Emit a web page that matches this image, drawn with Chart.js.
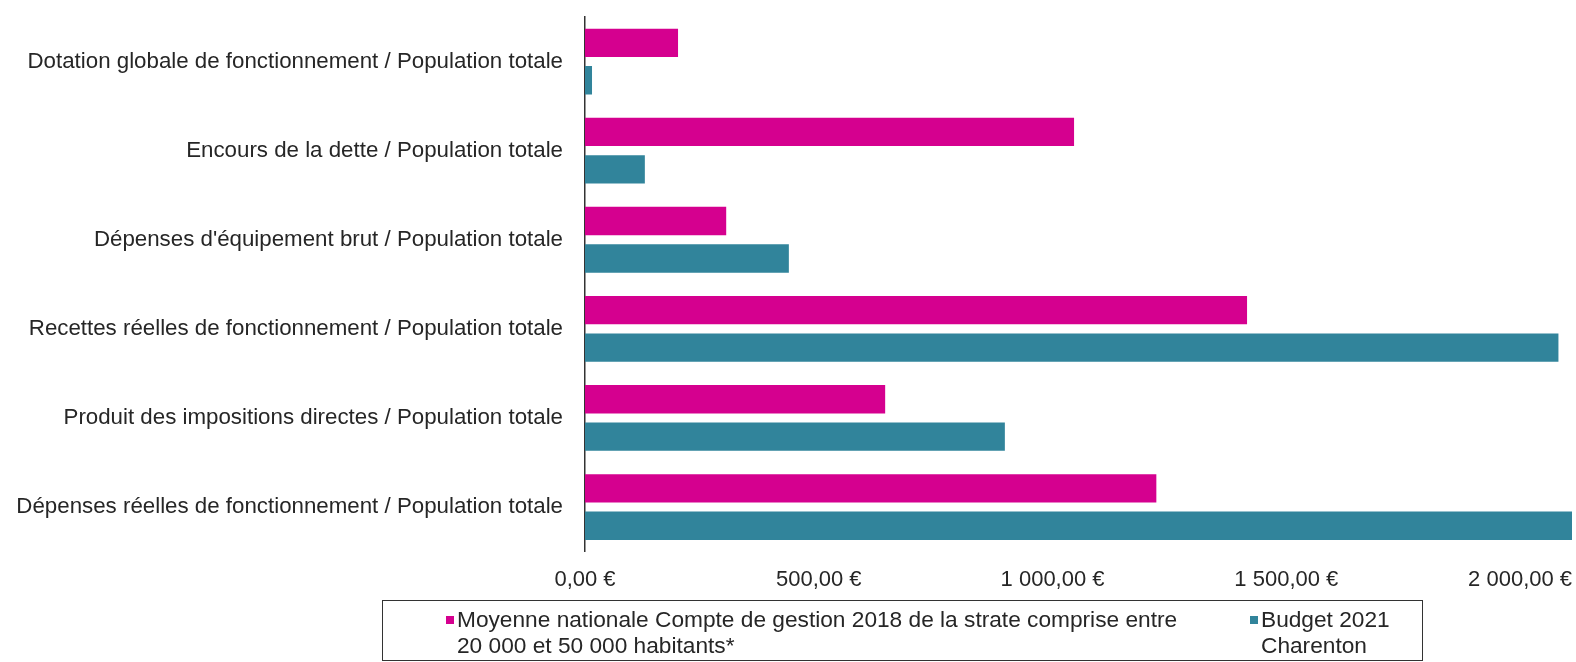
<!DOCTYPE html>
<html lang="fr">
<head>
<meta charset="utf-8">
<title>Ratios financiers</title>
<script src="https://cdn.jsdelivr.net/npm/chart.js@4.4.1/dist/chart.umd.min.js"></script>
<style>
  body { margin: 0; background: #fff; font-family: "Liberation Sans", Arial, sans-serif; }
  #wrap { position: relative; width: 1576px; height: 662px; }
  #legend {
    position: absolute; left: 382px; top: 600px; width: 1041px; height: 61px;
    border: 1.5px solid #333; box-sizing: border-box;
    font-size: 22.7px; color: #262626; line-height: 26px;
  }
  .item { position: absolute; top: 5px; }
  .box { position: absolute; left: 0; top: 10px; width: 8px; height: 8px; }
  .txt { margin-left: 11px; white-space: nowrap; }
</style>
</head>
<body>
<div id="wrap">
  <canvas id="myChart" width="1576" height="662"></canvas>
  <div id="legend"></div>
</div>
<script>
const categories = [
    'Dotation globale de fonctionnement / Population totale',
    'Encours de la dette / Population totale',
    "Dépenses d'équipement brut / Population totale",
    'Recettes réelles de fonctionnement / Population totale',
    'Produit des impositions directes / Population totale',
    'Dépenses réelles de fonctionnement / Population totale'
];
const seriesNames = [
    ['Moyenne nationale Compte de gestion 2018 de la strate comprise entre', '20 000 et 50 000 habitants*'],
    ['Budget 2021', 'Charenton']
];
const moyenneNationale = [199, 1046, 302, 1416, 642, 1222];
const budget2021 = [15, 128, 436, 2082, 898, 2130];
const tickValues = [0, 500, 1000, 1500, 2000];

function euro(v) {
    const parts = v.toFixed(2).split('.');
    const ent = parts[0].replace(/\B(?=(\d{3})+(?!\d))/g, ' ');
    return ent + ',' + parts[1] + ' €';
}

const colors = ['rgba(213, 0, 143, 1)', 'rgba(49, 132, 155, 1)'];

const ctx = document.getElementById('myChart');
const myChart = new Chart(ctx, {
    type: 'bar',
    data: {
        labels: categories,
        datasets: [{
            label: seriesNames[0].join(' '),
            data: moyenneNationale,
            backgroundColor: colors[0],
            borderWidth: 0
        }, {
            label: seriesNames[1].join(' '),
            data: budget2021,
            backgroundColor: colors[1],
            borderWidth: 0
        }]
    },
    options: {
        indexAxis: 'y',
        responsive: false,
        animation: false,
        layout: { padding: { top: 17, right: 4, bottom: 62, left: 0 } },
        categoryPercentage: 0.84,
        barPercentage: 0.757,
        plugins: {
            legend: { display: false },
            tooltip: { enabled: false }
        },
        scales: {
            x: {
                min: 0,
                max: 2111,
                grid: { display: false },
                border: { display: false },
                afterBuildTicks: (scale) => {
                    scale.ticks = tickValues.map(v => ({ value: v }));
                },
                afterFit: (scale) => { scale.paddingLeft = 0; scale.paddingRight = 0; },
                ticks: {
                    includeBounds: false,
                    padding: 7,
                    color: '#262626',
                    font: { family: 'Liberation Sans', size: 22 },
                    callback: (v) => euro(v)
                }
            },
            y: {
                grid: { display: false, drawTicks: false },
                border: { display: true, color: '#333', width: 1.5 },
                afterFit: (scale) => {
                    scale.width = 585;
                    scale.paddingTop = 0;
                    scale.paddingBottom = 0;
                },
                ticks: {
                    padding: 22,
                    color: '#262626',
                    font: { family: 'Liberation Sans', size: 22.3 }
                }
            }
        }
    }
});

// légende HTML encadrée, comme dans l'original
const legend = document.getElementById('legend');
const lefts = [63, 867];
myChart.data.datasets.forEach((ds, i) => {
    const item = document.createElement('div');
    item.className = 'item';
    item.style.left = lefts[i] + 'px';
    item.innerHTML = '<span class="box" style="background:' + ds.backgroundColor + '"></span>' +
        '<div class="txt">' + seriesNames[i].join('<br>') + '</div>';
    legend.appendChild(item);
});
</script>
</body>
</html>
